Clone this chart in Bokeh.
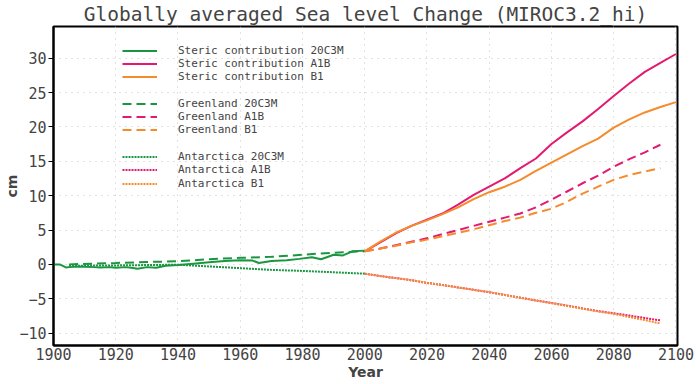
from bokeh.plotting import figure
from bokeh.models import Legend, LegendItem, Range1d, FixedTicker
from bokeh.embed import file_html
from bokeh.resources import INLINE

# ---------------- data ----------------
hist_years = [1900, 1902, 1904, 1905, 1908, 1910, 1913, 1915, 1918, 1920, 1923, 1925, 1927, 1930, 1933,
              1936, 1940, 1945, 1950, 1955, 1960, 1964, 1966, 1970, 1975, 1979, 1983, 1986, 1990,
              1993, 1996, 2000]
steric_20c3m = [0.0, 0.0, -0.45, -0.4, -0.3, -0.35, -0.4, -0.45, -0.4, -0.5, -0.4, -0.5, -0.65, -0.4, -0.5,
                -0.2, -0.1, 0.1, 0.3, 0.5, 0.6, 0.55, 0.2, 0.5, 0.6, 0.8, 1.05, 0.75, 1.4,
                1.3, 1.9, 2.0]

ice_hist_years = [1905, 1920, 1930, 1940, 1950, 1960, 1970, 1980, 1990, 2000]
greenland_20c3m = [0.0, 0.2, 0.35, 0.45, 0.75, 0.95, 1.1, 1.4, 1.7, 1.9]
antarctica_20c3m = [-0.2, -0.15, -0.1, -0.05, -0.3, -0.55, -0.8, -0.95, -1.15, -1.35]

fut_years = [2000, 2005, 2010, 2015, 2020, 2025, 2030, 2035, 2040, 2045, 2050, 2055, 2060, 2065,
             2070, 2075, 2080, 2085, 2090, 2095, 2100]
steric_a1b = [1.9, 3.2, 4.5, 5.6, 6.5, 7.4, 8.7, 10.1, 11.3, 12.5, 14.0, 15.4, 17.5, 19.2,
              20.8, 22.6, 24.5, 26.3, 28.0, 29.3, 30.6]
steric_b1 = [1.9, 3.3, 4.6, 5.6, 6.4, 7.3, 8.3, 9.5, 10.5, 11.3, 12.3, 13.6, 14.8, 16.0,
             17.2, 18.3, 19.9, 21.1, 22.1, 22.9, 23.6]

ice_fut_years = [2000, 2005, 2010, 2015, 2020, 2025, 2030, 2035, 2040, 2045, 2050, 2055, 2060, 2065,
                 2070, 2075, 2080, 2085, 2090, 2095]
greenland_a1b = [1.9, 2.3, 2.8, 3.3, 3.8, 4.4, 5.0, 5.6, 6.2, 6.8, 7.4, 8.3, 9.4, 10.6,
                 11.8, 12.9, 14.2, 15.3, 16.3, 17.4]
greenland_b1 = [1.9, 2.3, 2.7, 3.2, 3.6, 4.1, 4.6, 5.1, 5.7, 6.3, 6.8, 7.5, 8.1, 9.1,
                10.3, 11.3, 12.3, 13.0, 13.5, 14.0]
antarctica_a1b = [-1.35, -1.7, -2.0, -2.3, -2.7, -3.0, -3.35, -3.7, -4.05, -4.45, -4.85, -5.25, -5.6, -6.0,
                  -6.4, -6.8, -7.1, -7.45, -7.8, -8.15]
antarctica_b1 = [-1.35, -1.7, -2.0, -2.3, -2.7, -3.0, -3.35, -3.7, -4.05, -4.45, -4.85, -5.25, -5.65, -6.05,
                 -6.45, -6.85, -7.2, -7.65, -8.1, -8.6]

x_ticks = [1900, 1920, 1940, 1960, 1980, 2000, 2020, 2040, 2060, 2080, 2100]
y_ticks = [-10, -5, 0, 5, 10, 15, 20, 25, 30]

GREEN = "#1a9641"
PINK = "#e31a6f"
ORANGE = "#f68b2c"
FONT = "DejaVu Sans"
MONO = "DejaVu Sans Mono"

p = figure(width=696, height=384, output_backend="svg", toolbar_location=None,
           x_range=Range1d(1900, 2100.5), y_range=Range1d(-11.8, 34.6),
           min_border_left=53, min_border_right=19, min_border_top=23, min_border_bottom=39)

p.title.text = "Globally averaged Sea level Change (MIROC3.2_hi)"
p.title.align = "center"
p.title.text_font = MONO
p.title.text_font_style = "normal"
p.title.text_font_size = "19.5px"
p.title.standoff = 1
p.title.offset = 0

p.outline_line_color = "black"
p.outline_line_width = 2
p.outline_line_alpha = 1

for ax in (p.xaxis[0], p.yaxis[0]):
    ax.axis_line_width = 2
    ax.major_label_text_font = MONO
    ax.major_label_text_font_size = "15px"
    ax.axis_label_text_font = FONT
    ax.axis_label_text_font_size = "14px"
    ax.axis_label_text_font_style = "bold"
    ax.minor_tick_line_color = None

p.xaxis.ticker = FixedTicker(ticks=x_ticks)
p.yaxis.ticker = FixedTicker(ticks=y_ticks)
p.xaxis.axis_label = "Year"
p.yaxis.axis_label = "cm"
p.xaxis.major_tick_out = 0
p.xaxis.major_tick_in = 0
p.xaxis.major_label_standoff = 2
p.xaxis.axis_label_standoff = 1
p.yaxis.major_tick_out = 5
p.yaxis.major_tick_in = 0
p.yaxis.major_tick_line_width = 1
p.yaxis.major_label_standoff = 2
p.yaxis.axis_label_standoff = -4

p.xgrid.grid_line_color = "#c4c4c4"
p.ygrid.grid_line_color = "#c4c4c4"
p.xgrid.grid_line_dash = "1 5"
p.ygrid.grid_line_dash = "1 5"

W = 2
DASH = "9 5"
DOT = "2 1"

r_s20 = p.line(hist_years, steric_20c3m, color=GREEN, line_width=W)
r_g20 = p.line(ice_hist_years, greenland_20c3m, color=GREEN, line_width=W, line_dash=DASH)
r_a20 = p.line(ice_hist_years, antarctica_20c3m, color=GREEN, line_width=W, line_dash=DOT)

r_sa = p.line(fut_years, steric_a1b, color=PINK, line_width=W)
r_ga = p.line(ice_fut_years, greenland_a1b, color=PINK, line_width=W, line_dash=DASH)
r_aa = p.line(ice_fut_years, antarctica_a1b, color=PINK, line_width=W, line_dash=DOT)

r_sb = p.line(fut_years, steric_b1, color=ORANGE, line_width=W)
r_gb = p.line(ice_fut_years, greenland_b1, color=ORANGE, line_width=W, line_dash=DASH)
r_ab = p.line(ice_fut_years, antarctica_b1, color=ORANGE, line_width=W, line_dash=DOT)

legend_rows = [
    ("Steric contribution 20C3M", r_s20, 288),
    ("Steric contribution A1B", r_sa, 275),
    ("Steric contribution B1", r_sb, 262),
    ("Greenland 20C3M", r_g20, 235),
    ("Greenland A1B", r_ga, 222),
    ("Greenland B1", r_gb, 209),
    ("Antarctica 20C3M", r_a20, 182),
    ("Antarctica A1B", r_aa, 169),
    ("Antarctica B1", r_ab, 155),
]
for label, rend, ypos in legend_rows:
    leg = Legend(items=[LegendItem(label=label, renderers=[rend])],
                 location=(69, ypos), orientation="vertical")
    leg.label_text_font = MONO
    leg.label_text_font_size = "11px"
    leg.label_height = 13
    leg.glyph_height = 13
    leg.glyph_width = 35
    leg.label_standoff = 21
    leg.spacing = 0
    leg.padding = 0
    leg.margin = 0
    leg.border_line_alpha = 0
    leg.background_fill_alpha = 0
    p.add_layout(leg)

open("out.html", "w").write(file_html(p, INLINE))
